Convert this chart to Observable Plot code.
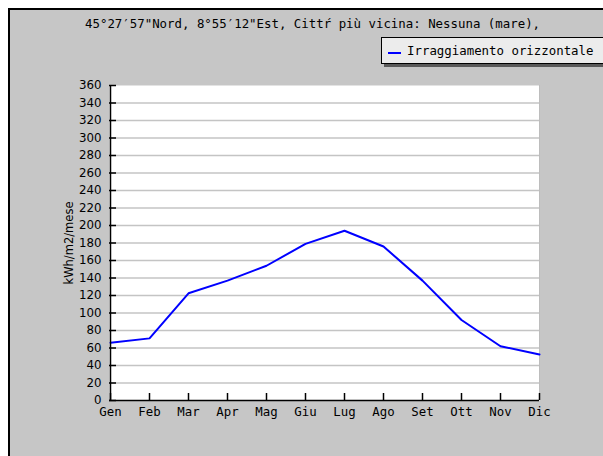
<!DOCTYPE html>
<html><head><meta charset="utf-8">
<script src="https://cdn.jsdelivr.net/npm/d3@7"></script>
<script src="https://cdn.jsdelivr.net/npm/@observablehq/plot@0.6"></script>
<style>
body{margin:0;background:#fff;}
#wrap{position:relative;width:603px;height:456px;overflow:hidden;background:#fff;}
#panel{position:absolute;left:8px;top:8px;width:620px;height:470px;background:#c6c6c6;border-top:2px solid #000;border-left:2px solid #000;}
#title{position:absolute;left:85px;top:17px;font:12.4px "DejaVu Sans Mono",monospace;line-height:14px;white-space:nowrap;color:#000;}
#legend{position:absolute;left:381px;top:37px;width:240px;height:25px;background:#ececec;border:1px solid #000;box-shadow:3px 3px 0 #5a5a5a;}
#legend .sw{position:absolute;left:6px;top:14px;width:13px;height:2px;background:#0000ff;}
#legend .tx{position:absolute;left:25px;top:6px;font:12.4px "DejaVu Sans Mono",monospace;line-height:14px;white-space:nowrap;color:#000;}
#ylab{position:absolute;left:69px;top:243px;transform:translate(-50%,-50%) rotate(-90deg);font:11.5px "DejaVu Sans",sans-serif;white-space:nowrap;color:#000;}
#chart{position:absolute;left:0;top:0;}
</style>
</head><body>
<div id="wrap">
  <div id="panel"></div>
  <div id="chart"></div>
  <div id="title"></div>
  <div id="legend"><div class="sw"></div><div class="tx"></div></div>
  <div id="ylab"></div>
</div>
<script>
const titleText = "45°27′57\"Nord, 8°55′12\"Est, Cittŕ più vicina: Nessuna (mare),";
const seriesName = "Irraggiamento orizzontale";
const yLabel = "kWh/m2/mese";
const months = ["Gen","Feb","Mar","Apr","Mag","Giu","Lug","Ago","Set","Ott","Nov","Dic"];
const irraggiamento = [66, 71, 122.5, 137, 154, 179, 194, 176, 137, 92, 62, 52.5];
const yTicks = [0,20,40,60,80,100,120,140,160,180,200,220,240,260,280,300,320,340,360];
const gridValues = [20,40,60,80,100,120,140,160,180,200,220,240,260,280,300,320,340];

document.getElementById("title").textContent = titleText;
document.querySelector("#legend .tx").textContent = seriesName;
document.getElementById("ylab").textContent = yLabel;

const data = months.map((m, i) => ({mese: m, valore: irraggiamento[i]}));

const chart = Plot.plot({
  width: 603,
  height: 456,
  marginLeft: 109,
  marginRight: 64,
  marginTop: 85,
  marginBottom: 56,
  style: {background: "none", color: "#000", overflow: "visible"},
  x: {type: "point", domain: months, padding: 0},
  y: {domain: [0, 360]},
  marks: [
    Plot.frame({fill: "white", stroke: null}),
    Plot.ruleY(gridValues, {stroke: "#c4c4c4", strokeWidth: 1.5}),
    Plot.ruleX(["Dic"], {stroke: "#bdbdbd", strokeWidth: 1}),
    Plot.line(data, {x: "mese", y: "valore", stroke: "#0000ff", strokeWidth: 2}),
    Plot.ruleX(["Gen"], {stroke: "#000", strokeWidth: 1.5}),
    Plot.ruleY([0], {stroke: "#000", strokeWidth: 1.5}),
    Plot.tickY(yTicks, {y: d => d, insetRight: 423, stroke: "#000", strokeWidth: 1.5}),
    Plot.tickX(months, {x: d => d, insetTop: 308, stroke: "#000", strokeWidth: 1.5}),
    Plot.axisY({ticks: yTicks, tickSize: 0, tickPadding: 8, label: null, fontSize: 11.8, fontFamily: "DejaVu Sans"}),
    Plot.axisX({tickSize: 0, tickPadding: 7, label: null, fontSize: 12.4, fontFamily: "DejaVu Sans Mono"})
  ]
});
document.getElementById("chart").appendChild(chart);
</script>
</body></html>
